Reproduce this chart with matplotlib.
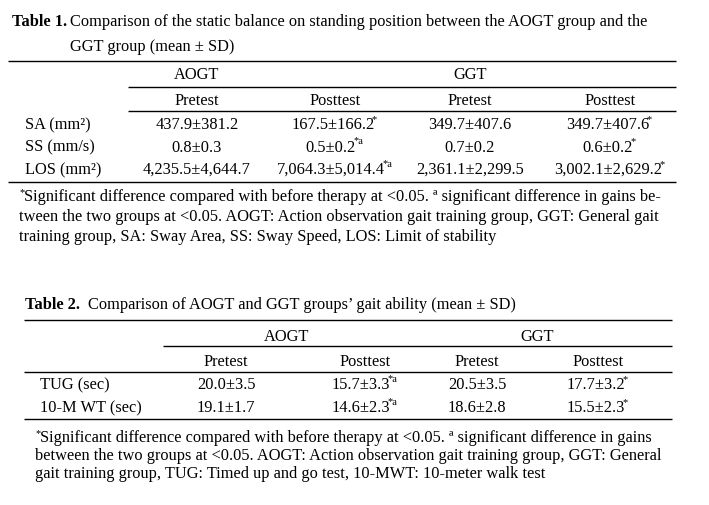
import matplotlib
matplotlib.use("Agg")
import matplotlib.pyplot as plt

plt.rcParams['font.family'] = ['Liberation Serif', 'DejaVu Serif']

# table 1 content
t1_groups = ["AOGT", "GGT"]
t1_phases = ["Pretest", "Posttest", "Pretest", "Posttest"]
t1_rows = ["SA (mm²)", "SS (mm/s)", "LOS (mm²)"]
t1_aogt_pre = ["437.9±381.2", "0.8±0.3", "4,235.5±4,644.7"]
t1_aogt_post = ["167.5±166.2", "0.5±0.2", "7,064.3±5,014.4"]
t1_ggt_pre = ["349.7±407.6", "0.7±0.2", "2,361.1±2,299.5"]
t1_ggt_post = ["349.7±407.6", "0.6±0.2", "3,002.1±2,629.2"]
# significance marks (superscripts) per column
t1_marks = [["", "", ""], ["*", "*a", "*a"], ["", "", ""], ["*", "*", "*"]]
t1_notes = [
    "Significant difference compared with before therapy at <0.05. ª significant difference in gains be-",
    "tween the two groups at <0.05. AOGT: Action observation gait training group, GGT: General gait",
    "training group, SA: Sway Area, SS: Sway Speed, LOS: Limit of stability",
]

# table 2 content
t2_groups = ["AOGT", "GGT"]
t2_phases = ["Pretest", "Posttest", "Pretest", "Posttest"]
t2_rows = ["TUG (sec)", "10-M WT (sec)"]
t2_aogt_pre = ["20.0±3.5", "19.1±1.7"]
t2_aogt_post = ["15.7±3.3", "14.6±2.3"]
t2_ggt_pre = ["20.5±3.5", "18.6±2.8"]
t2_ggt_post = ["17.7±3.2", "15.5±2.3"]
t2_marks = [["", ""], ["*a", "*a"], ["", ""], ["*", "*"]]
t2_notes = [
    "Significant difference compared with before therapy at <0.05. ª significant difference in gains",
    "between the two groups at <0.05. AOGT: Action observation gait training group, GGT: General",
    "gait training group, TUG: Timed up and go test, 10-MWT: 10-meter walk test",
]

fig = plt.figure(figsize=(7.09, 5.05), dpi=100)
ax = fig.add_axes([0, 0, 1, 1])
ax.set_xlim(0, 709)
ax.set_ylim(505, 0)
ax.axis("off")

fs = 11.8
sfs = 7.5
lw = 1.0
bl = 5  # offset from line centre to text baseline, px


def put(x, y, s, **kw):
    return ax.text(x, y + bl, s, fontsize=fs, va="baseline", **kw)


def sup(t, s):
    # small raised mark right after a text artist
    ax.annotate(s, xy=(1, 1), xycoords=t, xytext=(-1.8, 1.5),
                textcoords="offset points", ha="left", va="top",
                fontsize=sfs)


def rule(y, x0, x1):
    ax.plot([x0, x1], [y, y], color="black", lw=lw, solid_capstyle="butt")


def draw_table(title_bold, title_lines, title_x, title_y, title_dy,
               left, right, sub_left, ys, group_x, phase_x, label_x,
               rows, cols, marks, phases, groups, notes, note_x, note_y,
               note_dy, phase_rule_left):
    put(title_x, title_y, title_bold, fontweight="bold", ha="left")
    put(title_x + title_lines[0][1], title_y, title_lines[0][0], ha="left")
    for i, (txt, dx) in enumerate(title_lines[1:]):
        put(title_x + dx, title_y + title_dy * (i + 1), txt, ha="left")

    rule(ys["top"], left, right)
    for g, gx in zip(groups, group_x):
        put(gx, ys["group"], g, ha="center")
    rule(ys["grule"], sub_left, right)
    for p, px in zip(phases, phase_x):
        put(px, ys["phase"], p, ha="center")
    rule(ys["prule"], phase_rule_left, right)
    for i, lab in enumerate(rows):
        y = ys["row0"] + i * ys["rowdy"]
        put(label_x, y, lab, ha="left")
        for col, mk, px in zip(cols, marks, phase_x):
            shift = 2.2 * len(mk[i])
            t = put(px - shift, y, col[i], ha="center")
            if mk[i]:
                sup(t, mk[i])
    rule(ys["bottom"], left, right)
    ax.text(note_x, note_y - 1, "*", fontsize=sfs, va="baseline", ha="left")
    for i, n in enumerate(notes):
        put(note_x + (5 if i == 0 else 0), note_y + i * note_dy, n, ha="left")


draw_table("Table 1.",
           [("Comparison of the static balance on standing position between the AOGT group and the", 58),
            ("GGT group (mean ± SD)", 58)],
           12, 21, 25,
           8, 676, 128,
           {"top": 61, "group": 74, "grule": 87, "phase": 100, "prule": 111,
            "row0": 124, "rowdy": 22.5, "bottom": 182},
           [197, 470], [197, 335, 470, 610], 25,
           t1_rows, [t1_aogt_pre, t1_aogt_post, t1_ggt_pre, t1_ggt_post],
           t1_marks, t1_phases, t1_groups, t1_notes, 19, 196, 20, 128)

draw_table("Table 2.",
           [("Comparison of AOGT and GGT groups’ gait ability (mean ± SD)", 63)],
           25, 304, 0,
           24, 672, 163,
           {"top": 320, "group": 336, "grule": 346, "phase": 361, "prule": 372,
            "row0": 384, "rowdy": 23, "bottom": 419},
           [287, 537], [226, 365, 477, 598], 40,
           t2_rows, [t2_aogt_pre, t2_aogt_post, t2_ggt_pre, t2_ggt_post],
           t2_marks, t2_phases, t2_groups, t2_notes, 35, 437, 18, 24)

fig.savefig("out.png", dpi=100)
